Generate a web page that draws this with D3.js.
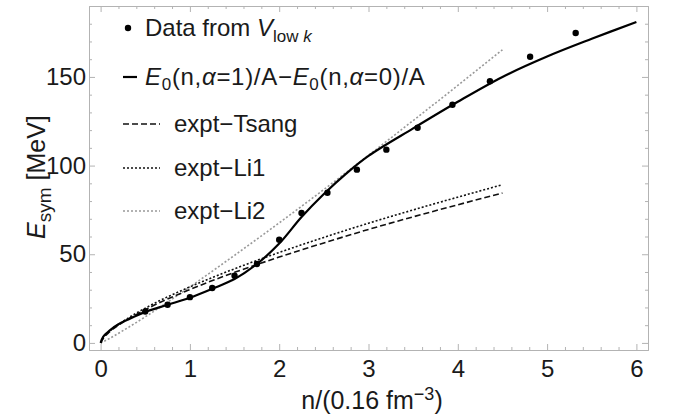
<!DOCTYPE html>
<html>
<head>
<meta charset="utf-8">
<script src="https://cdn.jsdelivr.net/npm/d3@7"></script>
<style>
  body { margin: 0; background: #fff; }
  text { font-family: "Liberation Sans", Arial, sans-serif; fill: #1a1a1a; }
</style>
</head>
<body>
<svg id="chart" width="680" height="418"></svg>
<script>
// data
const vlowN = [0.5, 0.75, 1.0, 1.25, 1.5, 1.75, 2.0, 2.25, 2.54, 2.87, 3.2, 3.55, 3.94, 4.36, 4.81, 5.32];
const vlowE = [17.7, 21.5, 25.8, 31.0, 37.9, 44.5, 58.2, 73.3, 84.7, 97.7, 109.0, 121.3, 134.3, 147.6, 161.4, 174.8];

const fitN = [0, 0.03, 0.1, 0.2, 0.3, 0.5, 0.75, 1.0, 1.25, 1.5, 1.75, 2.0, 2.25, 2.5, 2.75, 3.0, 3.5, 4.0, 4.5, 5.0, 5.5, 6.0];
const fitE = [0, 3.5, 7.0, 10.5, 13.0, 17.5, 21.5, 25.5, 30.5, 36.0, 44.5, 56.0, 71.0, 84.0, 95.5, 105.5, 121.0, 136.0, 150.0, 161.5, 171.5, 181.0];

const exptN = [0, 0.03, 0.1, 0.25, 0.5, 1.0, 1.5, 2.0, 2.5, 3.0, 3.5, 4.0, 4.5];
const tsangE = [0, 2.6, 6.2, 11.6, 18.7, 30.1, 39.8, 48.4, 56.4, 64.0, 71.1, 77.9, 84.5];
const li1E = [0, 2.8, 6.5, 12.1, 19.6, 31.6, 41.8, 51.0, 59.5, 67.5, 75.0, 82.2, 89.2];
const li2E = [0, 0.7, 2.5, 6.9, 14.7, 31.6, 49.4, 67.7, 86.5, 105.8, 125.4, 145.2, 165.3];

const xTicks = [0, 1, 2, 3, 4, 5, 6];
const yTicks = [0, 50, 100, 150];

let svg = d3.select("svg#chart");
let frame = { left: 89, right: 648, top: 6, bottom: 350 };

const xScale = d3.scaleLinear().domain([-0.13, 6.13]).range([frame.left, frame.right]);
const yScale = d3.scaleLinear().domain([-4, 190]).range([frame.bottom, frame.top]);

const xMinor = d3.range(0, 6.13, 0.2).filter(v => xTicks.indexOf(Math.round(v*10)/10) < 0);
const yMinor = d3.range(0, 190, 10).filter(v => yTicks.indexOf(v) < 0);

const frameColor = "#b3b3b3";
const fontSize = "24px";
const subSize = "17px";

// frame axes, ticks pointing inside
function drawAxis(axisFn, scale, vals, size, tr, labels) {
  let g = svg.append("g")
      .attr("transform", tr)
      .call(axisFn(scale).tickValues(vals).tickSize(size).tickSizeOuter(0)
            .tickFormat(labels ? d3.format("d") : ""));
  g.select(".domain").attr("stroke", frameColor);
  g.selectAll(".tick line").attr("stroke", frameColor);
  g.selectAll(".tick text").style("font-size", fontSize).attr("fill", "#1a1a1a")
      .style("font-family", "'Liberation Sans', Arial, sans-serif");
  return g;
}

// bottom
let bx = drawAxis(d3.axisBottom, xScale, xTicks, -6, "translate(0," + frame.bottom + ")", true);
bx.selectAll(".tick text").attr("y", 10).attr("dy", "0.71em");
drawAxis(d3.axisBottom, xScale, xMinor, -3, "translate(0," + frame.bottom + ")", false);
// top
drawAxis(d3.axisTop, xScale, xTicks, -6, "translate(0," + frame.top + ")", false);
drawAxis(d3.axisTop, xScale, xMinor, -3, "translate(0," + frame.top + ")", false);
// left
let ly = drawAxis(d3.axisLeft, yScale, yTicks, -6, "translate(" + frame.left + ",0)", true);
ly.selectAll(".tick text").attr("x", -3);
drawAxis(d3.axisLeft, yScale, yMinor, -3, "translate(" + frame.left + ",0)", false);
// right
drawAxis(d3.axisRight, yScale, yTicks, -6, "translate(" + frame.right + ",0)", false);
drawAxis(d3.axisRight, yScale, yMinor, -3, "translate(" + frame.right + ",0)", false);

// plot area
let plot = svg.append("g").attr("id", "plot");

let line = d3.line().x(d => xScale(d[0])).y(d => yScale(d[1])).curve(d3.curveMonotoneX);

plot.append("path")
    .datum(exptN.map((n, i) => [n, li2E[i]]))
    .attr("d", line)
    .attr("fill", "none")
    .attr("stroke", "#999")
    .attr("stroke-width", 1.6)
    .attr("stroke-dasharray", "2,2");

plot.append("path")
    .datum(exptN.map((n, i) => [n, tsangE[i]]))
    .attr("d", line)
    .attr("fill", "none")
    .attr("stroke", "#111")
    .attr("stroke-width", 1.6)
    .attr("stroke-dasharray", "6,3");

plot.append("path")
    .datum(exptN.map((n, i) => [n, li1E[i]]))
    .attr("d", line)
    .attr("fill", "none")
    .attr("stroke", "#111")
    .attr("stroke-width", 1.6)
    .attr("stroke-dasharray", "2,2");

plot.append("path")
    .datum(fitN.map((n, i) => [n, fitE[i]]))
    .attr("d", line.curve(d3.curveCatmullRom))
    .attr("fill", "none")
    .attr("stroke", "#000")
    .attr("stroke-width", 2.2);

plot.selectAll("circle.vlow")
    .data(vlowN.map((n, i) => [n, vlowE[i]]))
    .enter().append("circle")
    .attr("class", "vlow")
    .attr("cx", d => xScale(d[0]))
    .attr("cy", d => yScale(d[1]))
    .attr("r", 3.2)
    .attr("fill", "#000");

// legend
let legend = svg.append("g").attr("id", "legend").style("font-size", fontSize);
let rows = [28, 77, 124, 168, 211];

legend.append("circle").attr("cx", 128).attr("cy", rows[0]).attr("r", 3.2).attr("fill", "#000");
let t0 = legend.append("text").attr("x", 145).attr("y", rows[0]).attr("dy", "0.35em");
t0.append("tspan").text("Data from ");
t0.append("tspan").style("font-style", "italic").text("V");
t0.append("tspan").attr("dy", 6).style("font-size", subSize).text("low ");
t0.append("tspan").style("font-size", subSize).style("font-style", "italic").text("k");

legend.append("line").attr("x1", 123).attr("x2", 137).attr("y1", rows[1]).attr("y2", rows[1])
    .attr("stroke", "#000").attr("stroke-width", 2.2);
let t1 = legend.append("text").attr("x", 145).attr("y", rows[1]).attr("dy", "0.35em")
    .style("letter-spacing", "0.7px");
t1.append("tspan").style("font-style", "italic").text("E");
t1.append("tspan").attr("dy", 5).style("font-size", subSize).text("0");
t1.append("tspan").attr("dy", -5).text("(n,");
t1.append("tspan").style("font-style", "italic").text("α");
t1.append("tspan").text("=1)/A\u2212");
t1.append("tspan").style("font-style", "italic").text("E");
t1.append("tspan").attr("dy", 5).style("font-size", subSize).text("0");
t1.append("tspan").attr("dy", -5).text("(n,");
t1.append("tspan").style("font-style", "italic").text("α");
t1.append("tspan").text("=0)/A");

let lineItems = [
  { y: rows[2], label: "expt\u2212Tsang", color: "#111", dash: "6,3" },
  { y: rows[3], label: "expt\u2212Li1", color: "#111", dash: "2,2" },
  { y: rows[4], label: "expt\u2212Li2", color: "#999", dash: "2,2" }
];
lineItems.forEach(d => {
  legend.append("line").attr("x1", 123).attr("x2", 160).attr("y1", d.y).attr("y2", d.y)
      .attr("stroke", d.color).attr("stroke-width", 1.6).attr("stroke-dasharray", d.dash);
  legend.append("text").attr("x", 174).attr("y", d.y).attr("dy", "0.35em").text(d.label);
});

// axis titles
let xt = svg.append("text").attr("x", 372).attr("y", 409).attr("text-anchor", "middle").style("font-size", "25px");
xt.append("tspan").text("n/(0.16 fm");
xt.append("tspan").attr("dy", -9).style("font-size", "18px").text("\u22123");
xt.append("tspan").attr("dy", 9).text(")");

let yt = svg.append("text").attr("transform", "translate(45,239) rotate(-90)")
    .attr("text-anchor", "start").style("font-size", "25px");
yt.append("tspan").style("font-style", "italic").text("E");
yt.append("tspan").attr("dy", 6).style("font-size", "19px").text("sym");
yt.append("tspan").attr("dy", -6).text(" [MeV]");
</script>
</body>
</html>
